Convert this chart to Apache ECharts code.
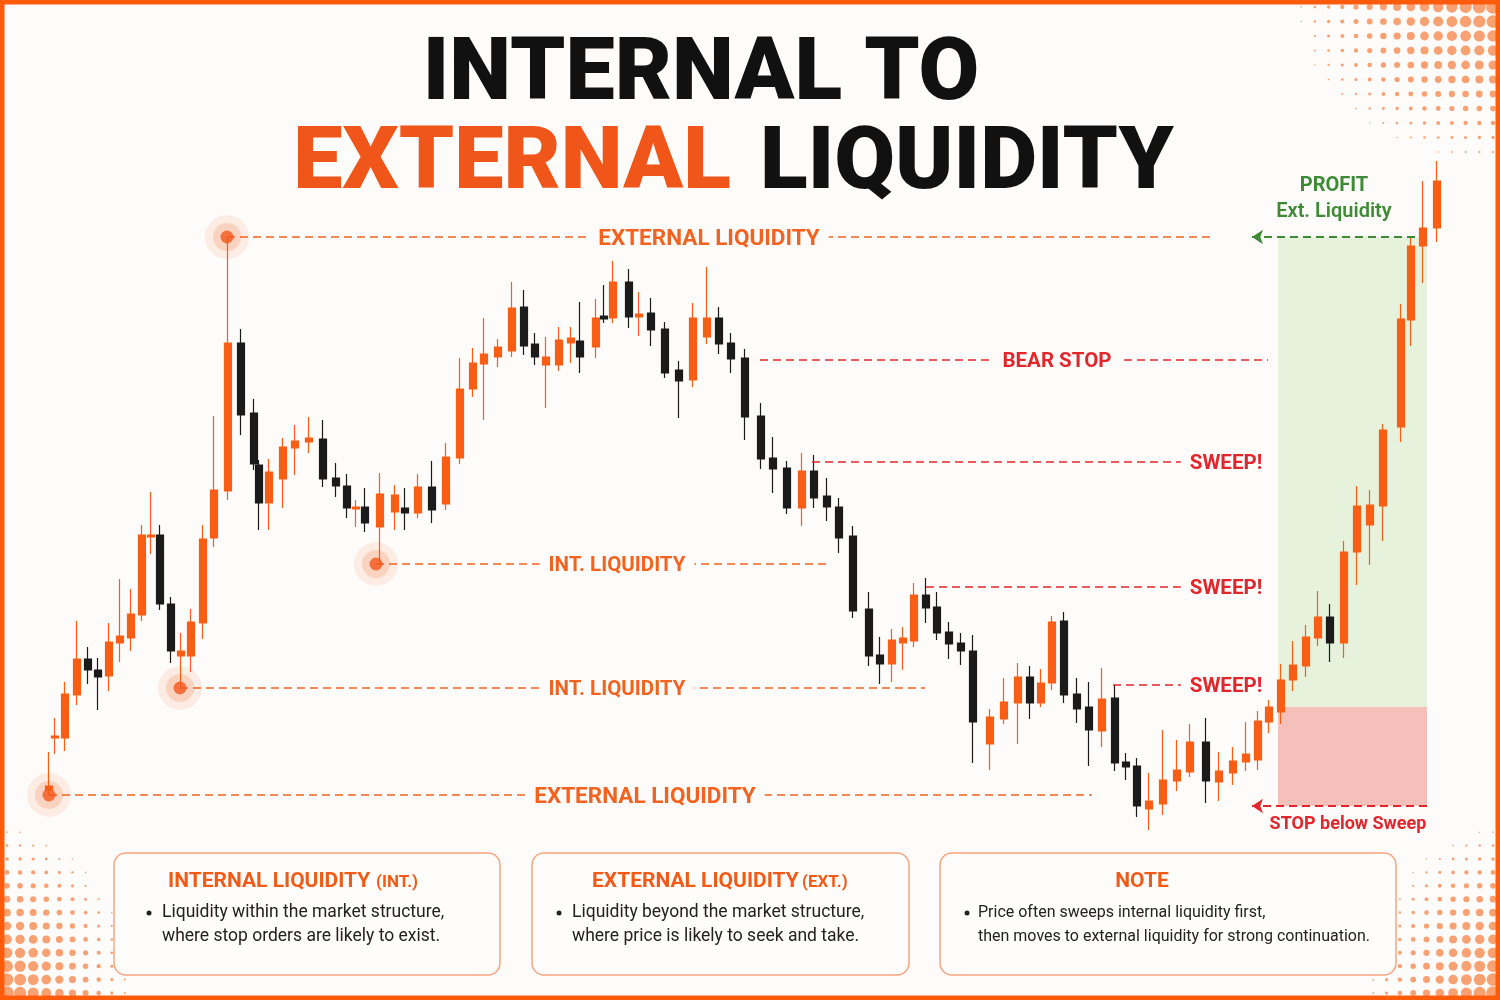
<!DOCTYPE html>
<html><head><meta charset="utf-8">
<script src="https://cdn.jsdelivr.net/npm/echarts@6/dist/echarts.min.js"></script>
<style>html,body{margin:0;padding:0;background:#fdfcfb}#c{width:1500px;height:1000px}</style>
</head><body><div id="c"></div>
<script>
// ---- candle data (time index, price) ----
const times  = [0,6,16,28,39,49,60,71,82,93,102,111,122,132,142,154,165,179,192,205,210,220,234,246,260,274,287,298,307,316,331,346,356,369,383,397,411,424,435,449,463,475,486,497,510,522,531,547,555,564,580,590,602,616,630,644,658,670,682,696,712,724,738,753,765,778,790,804,820,831,843,854,865,877,888,900,912,924,941,955,969,981,992,1003,1015,1028,1040,1053,1066,1077,1088,1100,1114,1128,1141,1157,1170,1184,1197,1209,1220,1232,1244,1257,1269,1281,1295,1308,1321,1334,1352,1362,1374,1388];
const opens  = [210,262,262,305,341,330,324,357,362,385,463,465,396,344,344,377,462,509,657,587,535,497,521,552,558,561,522,514,491,493,473,488,492,487,513,496,542,611,636,643,649,693,656,635,635,657,659,653,684,682,718,683,687,671,630,620,663,682,657,642,584,542,532,492,529,504,493,464,391,345,336,357,359,405,393,368,357,349,256,281,297,323,297,317,379,306,293,269,302,238,234,191,196,219,228,258,218,227,238,240,278,288,320,334,362,383,357,448,475,494,573,680,754,772];
const closes = [214,264,306,341,330,323,358,364,386,465,465,396,349,349,378,461,510,657,585,536,497,528,553,559,562,521,514,492,493,477,506,505,487,513,490,543,611,637,646,653,692,654,643,643,660,662,643,682,681,718,683,686,670,627,619,682,682,656,641,583,541,531,492,529,502,493,462,389,344,336,360,362,405,392,367,356,349,278,283,298,323,297,317,378,305,291,270,301,237,233,194,199,220,230,258,219,229,239,246,279,293,320,335,363,383,357,448,494,495,570,681,754,772,819];
const lows   = [205,246,249,295,316,290,309,338,349,379,446,390,337,312,328,361,453,500,565,530,470,470,492,525,547,513,503,482,473,468,436,470,470,482,477,490,536,603,580,633,643,645,635,592,629,637,627,642,677,677,672,664,654,622,582,613,656,646,627,560,531,507,486,474,492,479,447,382,334,316,318,330,353,377,360,341,335,237,230,276,256,281,293,310,297,277,234,253,229,220,183,170,185,209,223,197,199,215,229,230,267,276,309,323,354,338,342,415,435,459,558,654,717,758];
const highs  = [248,282,318,379,353,342,377,421,411,475,508,475,403,367,391,475,584,763,671,601,540,541,562,575,583,580,537,526,500,512,527,515,512,526,539,557,642,652,682,661,718,710,667,663,673,673,698,701,715,739,731,708,702,678,639,697,733,693,667,651,597,563,539,547,545,522,502,474,408,363,371,373,417,422,408,378,367,365,291,322,337,334,331,384,388,322,318,332,315,247,242,227,270,260,276,282,248,253,278,289,300,336,359,375,409,396,459,514,510,576,696,763,819,839];

// ---- liquidity levels ----
const levelNames   = ['EXTERNAL LIQUIDITY','BEAR STOP','SWEEP!','INT. LIQUIDITY','SWEEP!','INT. LIQUIDITY','SWEEP!','EXTERNAL LIQUIDITY'];
const levelKinds   = ['ext','stop','stop','int','stop','int','stop','ext'];
const levelPrices  = [763,640,538,436,413,312,315,205];
const levelFrom    = [178,711,763,327,877,131,1064,0];
const levelTo      = [1164,1219,1133,781,1133,876,1133,1043];
const levelLabelAt = [660,1008,1177,568,1177,568,1177,596];

// liquidity pools (highlighted extremes)
const poolTimes  = [0,131,327,178];
const poolPrices = [205,312,436,763];

// trade zone
const entryTime = 1229, zoneEndTime = 1378;
const targetPrice = 763, entryPrice = 293, stopPrice = 194;
const arrowTipTime = 1203;

const ORANGE = '#F95E14', BLACK = '#1b1b1b', LIQ = '#F4621F', RED = '#E3262B', GREEN = '#3E8A35', BG = '#fdfcfb';

const candles = times.map((t, i) => [t, opens[i], closes[i], lows[i], highs[i]]);

// halftone decoration
function halftone(cx, cy, sx, sy, dirX, dirY, nx, ny, reach, stretch) {
  const out = [];
  for (let i = 0; i < nx; i++) for (let j = 0; j < ny; j++) {
    const x = cx + dirX * (7 + i * sx), y = cy + dirY * (7 + j * sy);
    const d = Math.sqrt(Math.pow(Math.abs(x - cx) * stretch, 2) + Math.pow(Math.abs(y - cy), 2));
    const r = 7.2 * (1 - d / reach);
    if (r > 0.7) out.push({type: 'circle', silent: true, z: 0, shape: {cx: x, cy: y, r: r}, style: {fill: 'rgba(246,138,80,0.8)'}});
  }
  return out;
}

const graphics = [].concat(
  halftone(1500, 0, 13.7, 14.5, -1, 1, 16, 14, 180, 0.8),
  halftone(0, 1000, 13.1, 13.4, 1, -1, 10, 14, 190, 1.3),
  halftone(1500, 1000, 13.3, 13.4, -1, -1, 10, 14, 190, 1.3)
);

function box(x, w, title, sub, titleX, subX, lines, bx, tx, fs) {
  graphics.push({type: 'rect', z: 1, silent: true, shape: {x: x, y: 853, width: w, height: 122, r: 12}, style: {fill: '#fffdfc', stroke: '#F7A57E', lineWidth: 1.5}});
  graphics.push({type: 'text', z: 2, x: titleX, y: 882, style: {text: title, fontSize: 21, fontWeight: 'bold', fontFamily: 'Roboto', fill: '#F25A16', align: sub ? 'left' : 'center', verticalAlign: 'middle'}});
  if (sub) graphics.push({type: 'text', z: 2, x: subX, y: 883, style: {text: sub, fontSize: 17, fontWeight: 'bold', fontFamily: 'Roboto', fill: '#F25A16', align: 'left', verticalAlign: 'middle'}});
  graphics.push({type: 'circle', z: 2, shape: {cx: bx, cy: 913, r: 2.5}, style: {fill: '#222'}});
  lines.forEach((l, k) => graphics.push({type: 'text', z: 2, x: tx, y: 913 + k * 24, style: {text: l, fontSize: fs, fontFamily: 'Roboto', fill: '#222', align: 'left', verticalAlign: 'middle'}}));
}
box(114, 386, 'INTERNAL LIQUIDITY', '(INT.)', 168, 376, ['Liquidity within the market structure,', 'where stop orders are likely to exist.'], 149, 162, 17.5);
box(532, 377, 'EXTERNAL LIQUIDITY', '(EXT.)', 592, 802, ['Liquidity beyond the market structure,', 'where price is likely to seek and take.'], 559, 572, 17.5);
box(940, 456, 'NOTE', null, 1142, 0, ['Price often sweeps internal liquidity first,', 'then moves to external liquidity for strong continuation.'], 967, 978, 16);

// title
graphics.push({type: 'text', z: 3, x: 701, y: 77, style: {text: 'INTERNAL TO', fontSize: 88, fontWeight: 900, fontFamily: 'Roboto', fill: '#111', align: 'center', verticalAlign: 'middle'}});
graphics.push({type: 'text', z: 3, x: 731, y: 166, style: {text: 'EXTERNAL', fontSize: 88, fontWeight: 900, fontFamily: 'Roboto', fill: '#F0561A', align: 'right', verticalAlign: 'middle'}});
graphics.push({type: 'text', z: 3, x: 760, y: 166, style: {text: 'LIQUIDITY', fontSize: 88, fontWeight: 900, fontFamily: 'Roboto', fill: '#111', align: 'left', verticalAlign: 'middle'}});
// frame
graphics.push({type: 'rect', z: 100, silent: true, shape: {x: 2, y: 2, width: 1496, height: 996}, style: {fill: 'none', stroke: '#FF5B0A', lineWidth: 5}});

const isLiq = k => k === 'ext' || k === 'int';
const levelLines = levelNames.map((n, i) => [
  {coord: [levelFrom[i], levelPrices[i]], lineStyle: {color: isLiq(levelKinds[i]) ? LIQ : RED}},
  {coord: [levelTo[i], levelPrices[i]]}
]);
const levelLabels = levelNames.map((n, i) => ({
  coord: [levelLabelAt[i], levelPrices[i]],
  label: {formatter: n, color: isLiq(levelKinds[i]) ? LIQ : RED, fontSize: levelKinds[i] === 'ext' ? 22.5 : 20.5}
}));

const chart = echarts.init(document.getElementById('c'));
chart.setOption({
  backgroundColor: BG,
  animation: false,
  graphic: {elements: graphics},
  grid: {left: 29, top: 150, width: 1440, height: 680},
  xAxis: {type: 'value', min: -20, max: 1420, show: false, splitLine: {show: false}},
  yAxis: {type: 'value', min: 170, max: 850, show: false, splitLine: {show: false}},
  series: [
    {
      type: 'candlestick', z: 3, clip: false, silent: true,
      barWidth: 8,
      data: candles,
      itemStyle: {color: ORANGE, color0: BLACK, borderColor: ORANGE, borderColor0: BLACK, borderWidth: 1.2},
      markArea: {
        silent: true,
        data: [
          [{coord: [entryTime, targetPrice], itemStyle: {color: '#e6f2dc'}}, {coord: [zoneEndTime, entryPrice]}],
          [{coord: [entryTime, entryPrice], itemStyle: {color: '#f5c0ba'}}, {coord: [zoneEndTime, stopPrice]}]
        ]
      },
      markLine: {
        silent: true, symbol: ['none', 'none'], z: 4,
        label: {show: false},
        lineStyle: {type: [8, 5], width: 1.6},
        data: levelLines
      },
      markPoint: {
        silent: true, z: 6, symbol: 'rect', symbolSize: 1,
        itemStyle: {color: 'rgba(0,0,0,0)'},
        label: {show: true, position: 'inside', offset: [0, 2], fontWeight: 'bold', fontFamily: 'Roboto', backgroundColor: BG, padding: [2, 9]},
        data: levelLabels
      }
    },
    {
      type: 'scatter', z: 7, silent: true, symbolSize: 44,
      itemStyle: {color: 'rgba(244,98,31,0.13)'},
      data: poolTimes.map((t, i) => [t, poolPrices[i]])
    },
    {
      type: 'scatter', z: 7, silent: true, symbolSize: 28,
      itemStyle: {color: 'rgba(244,98,31,0.22)'},
      data: poolTimes.map((t, i) => [t, poolPrices[i]])
    },
    {
      type: 'scatter', z: 8, silent: true, symbolSize: 13,
      itemStyle: {color: '#F4581A'},
      data: poolTimes.map((t, i) => [t, poolPrices[i]]),
      markLine: {
        silent: true, z: 5, symbol: ['none', 'arrow'], symbolSize: [11, 11],
        label: {show: false},
        data: [
          [{coord: [zoneEndTime - 12, targetPrice], lineStyle: {color: GREEN, type: [8, 5], width: 1.8}}, {coord: [arrowTipTime, targetPrice]}],
          [{coord: [zoneEndTime, stopPrice], lineStyle: {color: RED, type: [8, 5], width: 1.8}}, {coord: [arrowTipTime, stopPrice]}]
        ]
      },
      markPoint: {
        silent: true, z: 6, symbol: 'rect', symbolSize: 1,
        itemStyle: {color: 'rgba(0,0,0,0)'},
        label: {show: true, position: 'inside', fontFamily: 'Roboto', fontWeight: 'bold'},
        data: [
          {coord: [1285, 814], label: {formatter: 'PROFIT', color: GREEN, fontSize: 20}},
          {coord: [1285, 788], label: {formatter: 'Ext. Liquidity', color: GREEN, fontSize: 20, fontWeight: 600}},
          {coord: [1299, 176], label: {formatter: 'STOP below Sweep', color: RED, fontSize: 18}}
        ]
      }
    }
  ]
});
</script></body></html>
